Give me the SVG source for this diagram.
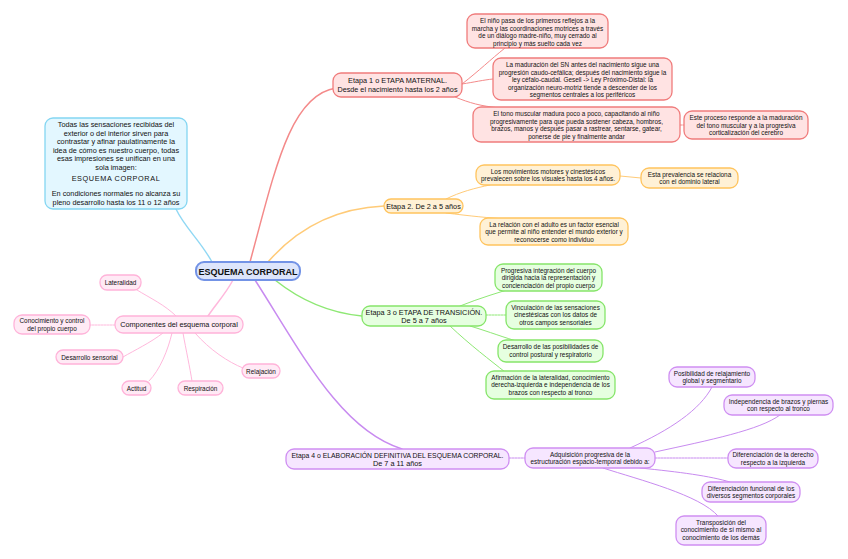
<svg xmlns="http://www.w3.org/2000/svg" width="848" height="559" viewBox="0 0 848 559">
<style>
text{font-family:"Liberation Sans",Arial,sans-serif;fill:#111;text-anchor:middle}
.t{font-size:7.3px}
.s{font-size:6.4px}
.c{fill:none;stroke-linecap:round}
.red rect{fill:#ffe3e3;stroke:#f07c7c;stroke-width:1.3}
.org rect{fill:#fff1d6;stroke:#ffc45e;stroke-width:1.3}
.grn rect{fill:#e6ffe0;stroke:#86e56a;stroke-width:1.3}
.pur rect{fill:#f6e6ff;stroke:#cf8ff2;stroke-width:1.3}
.pnk rect{fill:#ffeaf5;stroke:#ffb3d9;stroke-width:1.3}
.blu rect{fill:#e3f7ff;stroke:#84d6f2;stroke-width:1.3}
</style>
<rect width="848" height="559" fill="#ffffff"/>
<g id="connectors">
 <path class="c" stroke="#90d8f4" stroke-width="1.4" d="M212 262 C200 240 185 228 176 209"/>
 <path class="c" stroke="#f48a8a" stroke-width="1.5" d="M250 262 C275 170 290 95 336 88"/>
 <path class="c" stroke="#f48a8a" stroke-width="1" d="M462 84 C480 70 490 60 505 48"/>
 <path class="c" stroke="#f48a8a" stroke-width="1" d="M462 84 C475 82 483 80 493 79"/>
 <path class="c" stroke="#f48a8a" stroke-width="1" d="M455 97 C470 103 480 106 500 108"/>
 <path class="c" stroke="#f48a8a" stroke-width="1" stroke-dasharray="2 1" d="M680 125 L684 125"/>
 <path class="c" stroke="#ffcb78" stroke-width="1.5" d="M268 262 C300 225 340 208 384 206"/>
 <path class="c" stroke="#ffcb78" stroke-width="1" d="M446 199 C460 192 475 188 490 185"/>
 <path class="c" stroke="#ffcb78" stroke-width="1" d="M446 213 C470 216 490 218 505 219"/>
 <path class="c" stroke="#ffcb78" stroke-width="1" d="M620 176 L641 178"/>
 <path class="c" stroke="#8ee874" stroke-width="1.5" d="M275 280 C300 300 330 313 362 316"/>
 <path class="c" stroke="#8ee874" stroke-width="1" d="M460 306 C480 298 500 292 520 286"/>
 <path class="c" stroke="#8ee874" stroke-width="1" stroke-dasharray="2 1" d="M486 315 L506 315"/>
 <path class="c" stroke="#8ee874" stroke-width="1" d="M470 326 C490 332 505 338 520 342"/>
 <path class="c" stroke="#8ee874" stroke-width="1" d="M450 326 C470 345 490 360 505 372"/>
 <path class="c" stroke="#c88bf0" stroke-width="1.5" d="M255 280 C300 350 340 430 402 449"/>
 <path class="c" stroke="#c88bf0" stroke-width="1" stroke-dasharray="2 1" d="M509 458 L525 458"/>
 <path class="c" stroke="#c88bf0" stroke-width="1" d="M630 448 C670 430 700 410 712 387"/>
 <path class="c" stroke="#c88bf0" stroke-width="1" d="M655 452 C710 440 760 430 780 415"/>
 <path class="c" stroke="#c88bf0" stroke-width="1" stroke-dasharray="2 1" d="M655 458 L728 458"/>
 <path class="c" stroke="#c88bf0" stroke-width="1" d="M640 468 C680 472 710 476 730 482"/>
 <path class="c" stroke="#c88bf0" stroke-width="1" d="M603 468 C640 480 700 495 718 516"/>
 <path class="c" stroke="#ffb8dc" stroke-width="1.5" d="M233 280 C225 295 215 305 208 316"/>
 <path class="c" stroke="#ffb8dc" stroke-width="1" d="M176 316 C165 305 150 298 137 290"/>
 <path class="c" stroke="#ffb8dc" stroke-width="1" stroke-dasharray="2 1" d="M115 325 L90 325"/>
 <path class="c" stroke="#ffb8dc" stroke-width="1" d="M163 333 C150 343 135 350 123 357"/>
 <path class="c" stroke="#ffb8dc" stroke-width="1" d="M172 333 C168 350 160 370 149 381"/>
 <path class="c" stroke="#ffb8dc" stroke-width="1" d="M183 333 C186 350 190 368 192 381"/>
 <path class="c" stroke="#ffb8dc" stroke-width="1" d="M195 333 C210 350 228 362 243 368"/>
</g>

<g id="center">
 <rect x="196" y="262" width="104" height="18" rx="8" fill="#dde5fb" stroke="#7393e6" stroke-width="2"/>
 <text x="248" y="274.5" font-size="9" font-weight="bold">ESQUEMA CORPORAL</text>
</g>

<g id="intro" class="blu">
 <rect x="45" y="118" width="142" height="91" rx="8"/>
 <text class="t" x="116" y="127">Todas las sensaciones recibidas del</text>
 <text class="t" x="116" y="135.5">exterior o del interior sirven para</text>
 <text class="t" x="116" y="144">contrastar y afinar paulatinamente la</text>
 <text class="t" x="116" y="152.5">idea de cómo es nuestro cuerpo, todas</text>
 <text class="t" x="116" y="161">esas impresiones se unifican en una</text>
 <text class="t" x="116" y="169.5">sola imagen:</text>
 <text class="t" x="116" y="181" letter-spacing="0.6">ESQUEMA CORPORAL</text>
 <text class="t" x="116" y="196">En condiciones normales no alcanza su</text>
 <text class="t" x="116" y="204.5">pleno desarrollo hasta los 11 o 12 años</text>
</g>

<g id="etapa1" class="red">
 <rect x="333" y="73" width="129" height="24" rx="8"/>
 <text class="t" x="397.5" y="83">Etapa 1 o ETAPA MATERNAL.</text>
 <text class="t" x="397.5" y="92" textLength="120" lengthAdjust="spacingAndGlyphs">Desde el nacimiento hasta los 2 años</text>
</g>
<g id="r1" class="red">
 <rect x="467" y="14" width="141" height="34" rx="8"/>
 <text class="s" x="537.5" y="23">El niño pasa de los primeros reflejos a la</text>
 <text class="s" x="537.5" y="30.5">marcha y las coordinaciones motrices a través</text>
 <text class="s" x="537.5" y="38">de un diálogo madre-niño, muy cerrado al</text>
 <text class="s" x="537.5" y="45.5">principio y más suelto cada vez</text>
</g>
<g id="r2" class="red">
 <rect x="493" y="58" width="179" height="42" rx="8"/>
 <text class="s" x="582.5" y="67">La maduración del SN antes del nacimiento sigue una</text>
 <text class="s" x="582.5" y="74.5">progresión caudo-cefálica; después del nacimiento sigue la</text>
 <text class="s" x="582.5" y="82">ley céfalo-caudal. Gesell -&gt; Ley Próximo-Distal: la</text>
 <text class="s" x="582.5" y="89.5">organización neuro-motriz tiende a descender de los</text>
 <text class="s" x="582.5" y="97">segmentos centrales a los periféricos</text>
</g>
<g id="r3" class="red">
 <rect x="473" y="107" width="207" height="35" rx="8"/>
 <text class="s" x="576.5" y="116">El tono muscular madura poco a poco, capacitando al niño</text>
 <text class="s" x="576.5" y="123.5">progresivamente para que pueda sostener cabeza, hombros,</text>
 <text class="s" x="576.5" y="131">brazos, manos y después pasar a rastrear, sentarse, gatear,</text>
 <text class="s" x="576.5" y="138.5">ponerse de pie y finalmente andar</text>
</g>
<g id="r4" class="red">
 <rect x="684" y="111" width="124" height="28" rx="8"/>
 <text class="s" x="746" y="120">Este proceso responde a la maduración</text>
 <text class="s" x="746" y="127.5">del tono muscular y a la progresiva</text>
 <text class="s" x="746" y="135">corticalización del cerebro</text>
</g>

<g id="etapa2" class="org">
 <rect x="384" y="199" width="79" height="14" rx="7"/>
 <text class="t" x="423.5" y="208.8">Etapa 2. De 2 a 5 años</text>
</g>
<g id="o1" class="org">
 <rect x="476" y="165" width="144" height="20" rx="8"/>
 <text class="s" x="548" y="173.5">Los movimientos motores y cinestésicos</text>
 <text class="s" x="548" y="181">prevalecen sobre los visuales hasta los 4 años.</text>
</g>
<g id="o2" class="org">
 <rect x="641" y="168" width="97" height="20" rx="8"/>
 <text class="s" x="689.5" y="176.5">Esta prevalencia se relaciona</text>
 <text class="s" x="689.5" y="184">con el dominio lateral</text>
</g>
<g id="o3" class="org">
 <rect x="480" y="218" width="148" height="27" rx="8"/>
 <text class="s" x="554" y="226.5">La relación con el adulto es un factor esencial</text>
 <text class="s" x="554" y="234">que permite al niño entender el mundo exterior y</text>
 <text class="s" x="554" y="241.5">reconocerse como individuo</text>
</g>

<g id="etapa3" class="grn">
 <rect x="362" y="306" width="124" height="20" rx="8"/>
 <text class="t" x="424" y="314.5">Etapa 3 o ETAPA DE TRANSICIÓN.</text>
 <text class="t" x="424" y="323">De 5 a 7 años</text>
</g>
<g id="g1" class="grn">
 <rect x="495" y="264" width="107" height="27" rx="8"/>
 <text class="s" x="548.5" y="272.5">Progresiva integración del cuerpo</text>
 <text class="s" x="548.5" y="280">dirigida hacia la representación y</text>
 <text class="s" x="548.5" y="287.5">concienciación del propio cuerpo</text>
</g>
<g id="g2" class="grn">
 <rect x="506" y="301" width="99" height="28" rx="8"/>
 <text class="s" x="555.5" y="309.5">Vinculación de las sensaciones</text>
 <text class="s" x="555.5" y="317">cinestésicas con los datos de</text>
 <text class="s" x="555.5" y="324.5">otros campos sensoriales</text>
</g>
<g id="g3" class="grn">
 <rect x="498" y="340" width="105" height="22" rx="8"/>
 <text class="s" x="550.5" y="349">Desarrollo de las posibilidades de</text>
 <text class="s" x="550.5" y="356.5">control postural y respiratorio</text>
</g>
<g id="g4" class="grn">
 <rect x="486" y="371" width="129" height="28" rx="8"/>
 <text class="s" x="550.5" y="379.5">Afirmación de la lateralidad, conocimiento</text>
 <text class="s" x="550.5" y="387">derecha-izquierda e independencia de los</text>
 <text class="s" x="550.5" y="394.5">brazos con respecto al tronco</text>
</g>

<g id="etapa4" class="pur">
 <rect x="286" y="449" width="223" height="20" rx="8"/>
 <text class="t" x="397.5" y="457.5" textLength="212" lengthAdjust="spacingAndGlyphs">Etapa 4 o ELABORACIÓN DEFINITIVA DEL ESQUEMA CORPORAL.</text>
 <text class="t" x="397.5" y="466">De 7 a 11 años</text>
</g>
<g id="p0" class="pur">
 <rect x="525" y="448" width="130" height="20" rx="8"/>
 <text class="s" x="590" y="456.5">Adquisición progresiva de la</text>
 <text class="s" x="590" y="464">estructuración espacio-temporal debido a:</text>
</g>
<g id="p1" class="pur">
 <rect x="669" y="367" width="86" height="20" rx="8"/>
 <text class="s" x="712" y="375.5">Posibilidad de relajamiento</text>
 <text class="s" x="712" y="383">global y segmentario</text>
</g>
<g id="p2" class="pur">
 <rect x="724" y="395" width="109" height="20" rx="8"/>
 <text class="s" x="778.5" y="403.5">Independencia de brazos y piernas</text>
 <text class="s" x="778.5" y="411">con respecto al tronco</text>
</g>
<g id="p3" class="pur">
 <rect x="728" y="449" width="90" height="19" rx="8"/>
 <text class="s" x="773" y="457">Diferenciación de la derecho</text>
 <text class="s" x="773" y="464.5">respecto a la izquierda</text>
</g>
<g id="p4" class="pur">
 <rect x="702" y="482" width="98" height="20" rx="8"/>
 <text class="s" x="751" y="490.5">Diferenciación funcional de los</text>
 <text class="s" x="751" y="498">diversos segmentos corporales</text>
</g>
<g id="p5" class="pur">
 <rect x="676" y="516" width="90" height="29" rx="8"/>
 <text class="s" x="721" y="524.5">Transposición del</text>
 <text class="s" x="721" y="532">conocimiento de sí mismo al</text>
 <text class="s" x="721" y="539.5">conocimiento de los demás</text>
</g>

<g id="componentes" class="pnk">
 <rect x="115" y="316" width="128" height="17" rx="8"/>
 <text class="t" x="179" y="327.3">Componentes del esquema corporal</text>
</g>
<g id="k1" class="pnk">
 <rect x="100" y="275" width="41" height="15" rx="7"/>
 <text class="s" x="120.5" y="285">Lateralidad</text>
</g>
<g id="k2" class="pnk">
 <rect x="14" y="315" width="76" height="19" rx="8"/>
 <text class="s" x="52" y="323">Conocimiento y control</text>
 <text class="s" x="52" y="330.5">del propio cuerpo</text>
</g>
<g id="k3" class="pnk">
 <rect x="56" y="350" width="67" height="14" rx="7"/>
 <text class="s" x="89.5" y="359.5">Desarrollo sensorial</text>
</g>
<g id="k4" class="pnk">
 <rect x="122" y="381" width="29" height="14" rx="7"/>
 <text class="s" x="136.5" y="390.5">Actitud</text>
</g>
<g id="k5" class="pnk">
 <rect x="178" y="381" width="45" height="14" rx="7"/>
 <text class="s" x="200.5" y="390.5">Respiración</text>
</g>
<g id="k6" class="pnk">
 <rect x="242" y="364" width="38" height="14" rx="7"/>
 <text class="s" x="261" y="373.5">Relajación</text>
</g>
</svg>
